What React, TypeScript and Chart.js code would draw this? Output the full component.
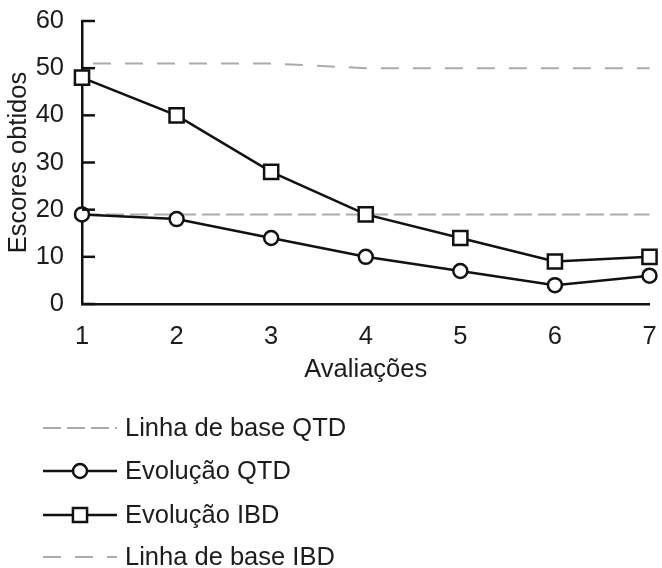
import React, { useEffect, useRef } from "react";
import { Chart, registerables } from "chart.js";

Chart.register(...registerables);

const avaliacoes = ["1", "2", "3", "4", "5", "6", "7"];
const linhaBaseQTD = [19, 19, 19, 19, 19, 19, 19];
const evolucaoQTD = [19, 18, 14, 10, 7, 4, 6];
const evolucaoIBD = [48, 40, 28, 19, 14, 9, 10];
const linhaBaseIBD = [51, 51, 51, 50, 50, 50, 50];
const yTickValues = [0, 10, 20, 30, 40, 50, 60];
const legendLabels = ["Linha de base QTD", "Evolução QTD", "Evolução IBD", "Linha de base IBD"];
const xTitle = "Avaliações";
const yTitle = "Escores obtidos";

const FONT = "'Liberation Sans', Arial, sans-serif";
const FS = 25.5;
const INK = "#111";
const TXT = "#1c1c1c";
const GRAY = "#ababab";

const innerTicks = {
  id: "innerTicks",
  afterDatasetsDraw(chart: any) {
    const y = chart.scales.y;
    const { ctx, chartArea } = chart;
    ctx.save();
    ctx.strokeStyle = INK;
    ctx.lineWidth = 2.5;
    yTickValues.forEach((v) => {
      const py = y.getPixelForValue(v);
      ctx.beginPath();
      ctx.moveTo(chartArea.left, py);
      ctx.lineTo(chartArea.left + 13, py);
      ctx.stroke();
    });
    ctx.restore();
  },
};

const sideLegend = {
  id: "sideLegend",
  afterDraw(chart: any) {
    const { ctx } = chart;
    const rows = [428, 471, 515, 557];
    const x0 = 43;
    const x1 = 117;
    const xm = 80;
    ctx.save();
    chart.data.datasets.forEach((ds: any, i: number) => {
      const yy = rows[i];
      ctx.strokeStyle = ds.borderColor;
      ctx.lineWidth = ds.borderWidth;
      ctx.setLineDash(ds.borderDash || []);
      ctx.beginPath();
      ctx.moveTo(x0, yy);
      ctx.lineTo(x1, yy);
      ctx.stroke();
      ctx.setLineDash([]);
      if (ds.pointRadius > 0) {
        ctx.fillStyle = ds.pointBackgroundColor;
        ctx.strokeStyle = ds.pointBorderColor;
        ctx.lineWidth = ds.pointBorderWidth;
        ctx.beginPath();
        if (ds.pointStyle === "rect") {
          const s = Math.SQRT1_2 * ds.pointRadius;
          ctx.rect(xm - s, yy - s, 2 * s, 2 * s);
        } else {
          ctx.arc(xm, yy, ds.pointRadius, 0, Math.PI * 2);
        }
        ctx.fill();
        ctx.stroke();
      }
      ctx.fillStyle = TXT;
      ctx.font = `${FS}px ${FONT}`;
      ctx.textAlign = "left";
      ctx.textBaseline = "middle";
      ctx.fillText(ds.label, 125, yy + 1);
    });
    ctx.restore();
  },
};

export default function App() {
  const ref = useRef<HTMLCanvasElement | null>(null);

  useEffect(() => {
    document.body.style.margin = "0";
    const canvas = ref.current!;
    const chart = new Chart(canvas, {
      type: "line",
      data: {
        labels: avaliacoes,
        datasets: [
          {
            label: legendLabels[0],
            data: linhaBaseQTD,
            borderColor: GRAY,
            borderWidth: 2,
            borderDash: [18, 6],
            pointRadius: 0,
            order: 1,
          },
          {
            label: legendLabels[1],
            data: evolucaoQTD,
            borderColor: INK,
            borderWidth: 2.5,
            pointStyle: "circle",
            pointRadius: 7,
            pointBorderWidth: 2.5,
            pointBackgroundColor: "#fff",
            pointBorderColor: INK,
            order: 0,
          },
          {
            label: legendLabels[2],
            data: evolucaoIBD,
            borderColor: INK,
            borderWidth: 2.5,
            pointStyle: "rect",
            pointRadius: 10,
            pointBorderWidth: 2.5,
            pointBackgroundColor: "#fff",
            pointBorderColor: INK,
            order: 0,
          },
          {
            label: legendLabels[3],
            data: linhaBaseIBD,
            borderColor: GRAY,
            borderWidth: 2,
            borderDash: [18, 14],
            borderDashOffset: 21,
            pointRadius: 0,
            order: 1,
          },
        ] as any,
      },
      options: {
        animation: false,
        responsive: false,
        devicePixelRatio: 1,
        clip: false as any,
        layout: { padding: { left: 0, right: 8, top: 21, bottom: 183 } },
        plugins: {
          legend: { display: false },
          tooltip: { enabled: false },
          title: { display: false },
        },
        elements: { line: { tension: 0 } },
        scales: {
          x: {
            type: "category",
            offset: false,
            grid: { display: false },
            border: { display: true, color: INK, width: 2.5 },
            ticks: { color: TXT, font: { family: FONT, size: FS }, padding: 10, maxRotation: 0, autoSkip: false },
            title: { display: true, text: xTitle, color: TXT, font: { family: FONT, size: FS }, padding: 0 },
            afterFit: (s: any) => {
              s.height = 81;
              s.paddingLeft = 0;
              s.paddingRight = 0;
            },
          },
          y: {
            min: 0,
            max: 60,
            grid: { display: false },
            border: { display: true, color: INK, width: 2.5 },
            ticks: { stepSize: 10, color: TXT, font: { family: FONT, size: FS }, padding: 10 },
            title: { display: true, text: yTitle, color: TXT, font: { family: FONT, size: FS }, padding: { top: 4, bottom: 0 } },
            afterFit: (s: any) => {
              s.width = 82;
              s.paddingTop = 0;
              s.paddingBottom = 0;
            },
          },
        },
      },
      plugins: [innerTicks, sideLegend],
    });
    return () => chart.destroy();
  }, []);

  return (
    <div style={{ position: "absolute", left: 0, top: 0, width: 662, height: 568, background: "#fff" }}>
      <canvas ref={ref} width={662} height={568} />
    </div>
  );
}
